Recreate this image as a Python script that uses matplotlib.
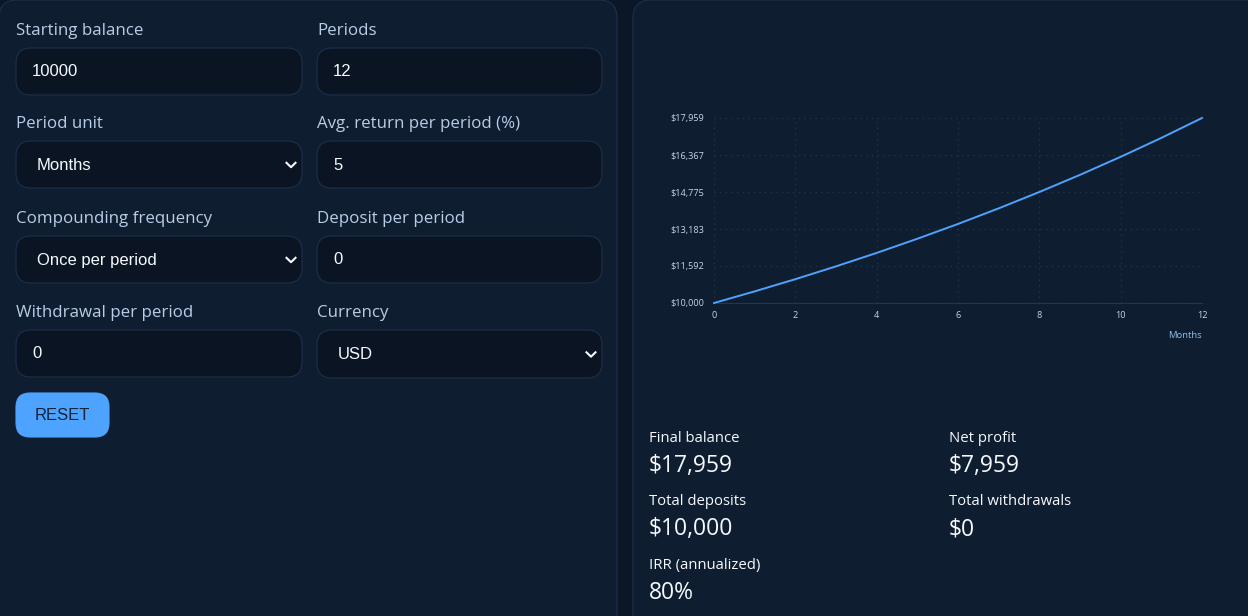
import matplotlib
matplotlib.use("Agg")
import matplotlib.pyplot as plt
from matplotlib.patches import FancyBboxPatch

W, H = 1248, 616

periods = [0, 1, 2, 3, 4, 5, 6, 7, 8, 9, 10, 11, 12]
balance = [10000, 10500, 11025, 11576, 12155, 12763, 13401, 14071, 14775, 15513, 16289, 17103, 17959]
x_ticks = [0, 2, 4, 6, 8, 10, 12]
y_ticks = [10000, 11592, 13183, 14775, 16367, 17959]

input_labels = ["Starting balance", "Periods", "Avg. return per period (%)", "Deposit per period", "Withdrawal per period"]
input_values = ["10000", "12", "5", "0", "0"]
select_labels = ["Period unit", "Compounding frequency", "Currency"]
select_values = ["Months", "Once per period", "USD"]

stat_labels = ["Final balance", "Net profit", "Total deposits", "Total withdrawals", "IRR (annualized)"]
stat_values = ["$17,959", "$7,959", "$10,000", "$0", "80%"]

PAGE = "#0b1626"
PANEL = "#0f1d30"
BORDER = "#1f2f4b"
FIELD = "#0a1422"
LABEL = "#b9cde6"
WHITE = "#f6fafe"
BLUE = "#4ea3ff"
GRID = "#25354d"
UI_FONT = ["Open Sans", "DejaVu Sans"]
FIELD_FONT = ["Liberation Sans", "DejaVu Sans"]

fig = plt.figure(figsize=(W / 100, H / 100), dpi=100, facecolor=PAGE)
ui = fig.add_axes([0, 0, 1, 1])
ui.set_xlim(0, W)
ui.set_ylim(H, 0)
ui.axis("off")


def box(x, y, w, h, r, fc, ec, lw=0.8):
    ui.add_patch(FancyBboxPatch((x + r, y + r), w - 2 * r, h - 2 * r,
                                boxstyle="round,pad=%f,rounding_size=%f" % (r, r),
                                fc=fc, ec=ec, lw=lw))


def field(x, y, w, h, label, value, is_select=False):
    ui.text(x, y - 17, label, color=LABEL, fontsize=12.2, family=UI_FONT, va="center")
    box(x, y, w, h, 15, FIELD, BORDER)
    tx = x + 21 if is_select else x + 16
    ui.text(tx, y + h / 2 + 0.5, value, color=WHITE, fontsize=12, family=FIELD_FONT, va="center")
    if is_select:
        ax_ = x + w - 11
        ay = y + h / 2 + 0.5
        ui.plot([ax_ - 4.5, ax_, ax_ + 4.5], [ay - 2.2, ay + 2.2, ay - 2.2], color=WHITE, lw=1.5)


# panels
box(-1, 0, 618, 640, 18, PANEL, BORDER)
box(633, 0, 640, 640, 18, PANEL, BORDER)

# form fields
field(16, 48, 286, 47, input_labels[0], input_values[0])
field(317, 48, 285, 47, input_labels[1], input_values[1])
field(16, 141, 286, 47, select_labels[0], select_values[0], True)
field(317, 141, 285, 47, input_labels[2], input_values[2])
field(16, 236, 286, 47, select_labels[1], select_values[1], True)
field(317, 236, 285, 47, input_labels[3], input_values[3])
field(16, 330, 286, 47, input_labels[4], input_values[4])
field(317, 330, 285, 48, select_labels[2], select_values[2], True)

# reset button
box(16, 393, 93, 44, 14, BLUE, BLUE)
ui.text(62.5, 415, "RESET", color="#13233a", fontsize=12, family=FIELD_FONT, ha="center", va="center")

# stats
stat_pos = [(649, 438), (949, 438), (649, 501.5), (949, 501.5), (649, 565)]
for (x, y), lab, val in zip(stat_pos, stat_labels, stat_values):
    ui.text(x, y, lab, color=WHITE, fontsize=10.7, family=UI_FONT, va="center")
    ui.text(x, y + 28, val, color=WHITE, fontsize=16.5, family=UI_FONT, va="center")

# chart
left, right, top, bottom = 714, 1202, 118, 303
ax = fig.add_axes([left / W, 1 - bottom / H, (right - left) / W, (bottom - top) / H], facecolor="none")
ax.plot(periods, balance, color=BLUE, lw=1.4, clip_on=False, zorder=3)
ax.set_xlim(0, 12)
ax.set_ylim(10000, 17959)
ax.set_xticks(x_ticks)
ax.set_yticks(y_ticks)
ax.set_yticklabels(["${:,}".format(v) for v in y_ticks])
ax.grid(True, color=GRID, lw=0.9, linestyle=(0, (1, 3.5)))
ax.tick_params(length=0, labelsize=6.6, labelcolor="#c4d6ec", pad=6)
ax.tick_params(axis="y", pad=7)
for lab in ax.get_xticklabels() + ax.get_yticklabels():
    lab.set_family(UI_FONT)
for side in ["top", "right"]:
    ax.spines[side].set_visible(False)
ax.spines["left"].set_visible(False)
ax.spines["bottom"].set_color(GRID)
ui.text(1202, 335, "Months", color="#8fc0ee", fontsize=6.8, family=UI_FONT, ha="right", va="center")

fig.savefig("out.png", dpi=100, facecolor=PAGE)
